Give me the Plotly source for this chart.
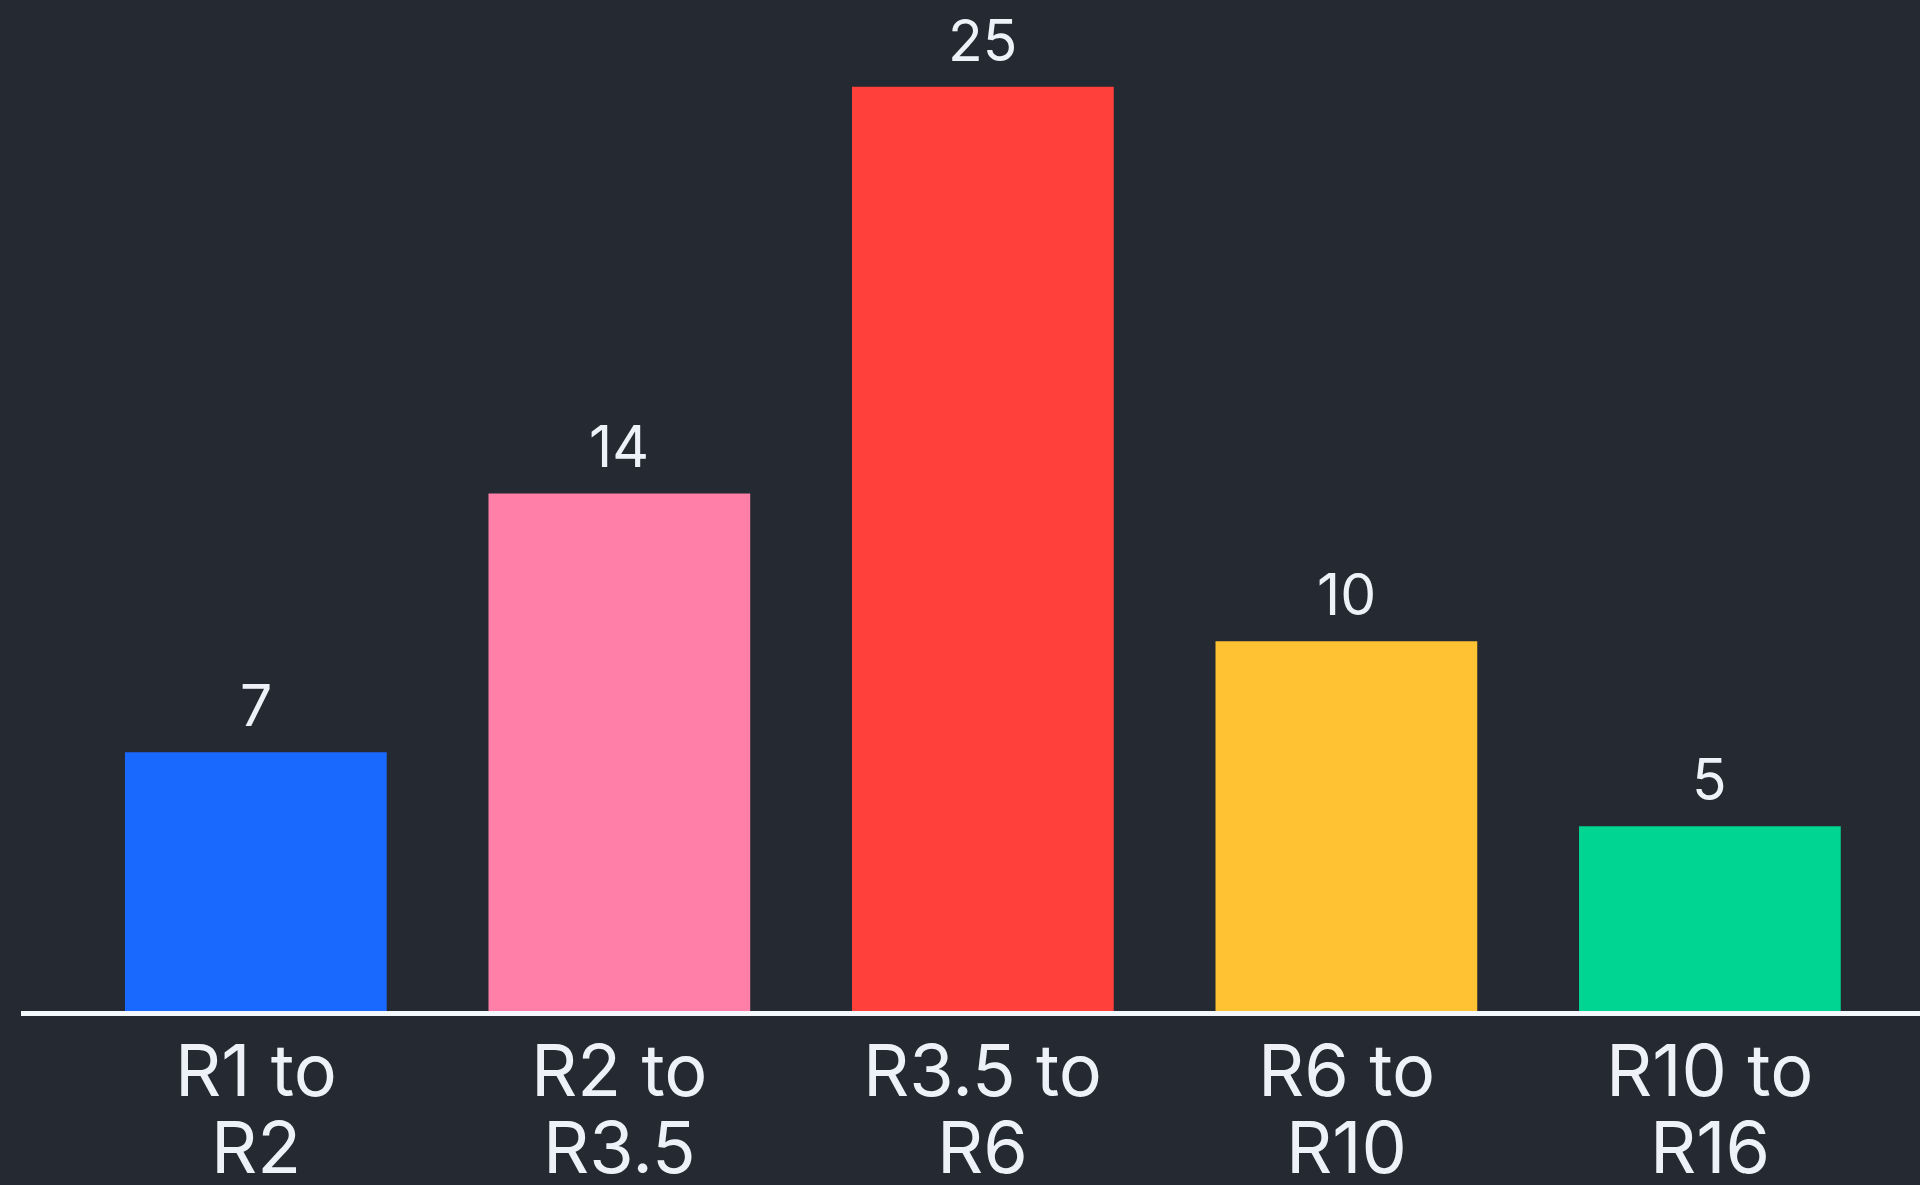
import plotly.graph_objects as go

categories = ["R1 to R2", "R2 to R3.5", "R3.5 to R6", "R6 to R10", "R10 to R16"]
label_line1 = ["R1 to", "R2 to", "R3.5 to", "R6 to", "R10 to"]
label_line2 = ["R2", "R3.5", "R6", "R10", "R16"]
values = [7, 14, 25, 10, 5]
colors = ["#1a69ff", "#ff7fa8", "#ff403b", "#ffc233", "#00d591"]

BG = "#252932"
TXT = "#eef2f8"
FONT = "Inter, Roboto, Arial, sans-serif"

fig = go.Figure()
fig.add_trace(go.Bar(
    x=categories,
    y=values,
    marker=dict(color=colors, line=dict(width=0)),
    cliponaxis=False,
    hoverinfo="skip",
))

for c, v in zip(categories, values):
    fig.add_annotation(x=c, xref="x", y=v, yref="y", text=str(v), showarrow=False,
                       yanchor="bottom", yshift=10,
                       font=dict(size=57, color=TXT, family=FONT))

for c, l1, l2 in zip(categories, label_line1, label_line2):
    fig.add_annotation(x=c, xref="x", y=0, yref="y", text=l1, showarrow=False,
                       yanchor="top", yshift=-13,
                       font=dict(size=72, color=TXT, family=FONT))
    fig.add_annotation(x=c, xref="x", y=0, yref="y", text=l2, showarrow=False,
                       yanchor="top", yshift=-90,
                       font=dict(size=72, color=TXT, family=FONT))

fig.update_layout(
    width=1920, height=1185,
    paper_bgcolor=BG, plot_bgcolor=BG,
    margin=dict(l=21, r=0, t=0, b=174),
    bargap=0.28,
    showlegend=False,
    xaxis=dict(range=[-0.646, 4.578], showticklabels=False, showgrid=False,
               zeroline=False, showline=True, linecolor="#f4f7fb", linewidth=5,
               ticks="", fixedrange=True),
    yaxis=dict(range=[0, 27.35], visible=False, showgrid=False, zeroline=False,
               fixedrange=True),
)

fig.write_html("out.html", config={"displayModeBar": False},
               post_script="document.body.style.margin='0';document.body.style.background='#252932';")
